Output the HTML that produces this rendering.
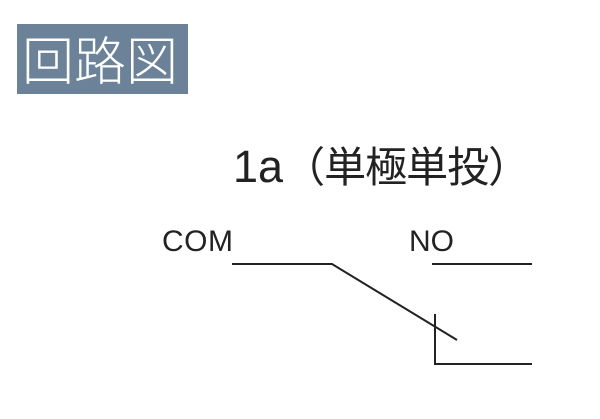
<!DOCTYPE html>
<html><head><meta charset="utf-8"><style>
body{margin:0;width:600px;height:419px;background:#fff;position:relative;overflow:hidden;font-family:"Liberation Sans","Noto Sans CJK JP",sans-serif}
.t{position:absolute;white-space:nowrap}
</style></head><body>
<div style="position:absolute;left:17px;top:24px;width:171px;height:70px;background:#6b8299"></div>
<div class="t" style="left:22px;top:28px;font-size:52px;line-height:60px;color:#fff;font-family:'Noto Sans CJK JP',sans-serif;font-weight:300">回路図</div>
<div class="t" style="left:233px;top:140px;height:50px;line-height:50px;color:#222"><span style="font-size:45px">1a</span><span style="font-size:42px;font-family:'Noto Sans CJK JP',sans-serif;letter-spacing:-1px">（単極単投）</span></div>
<div class="t" style="left:162px;top:227px;font-size:30px;line-height:30px;color:#222;letter-spacing:0.5px">COM</div>
<div class="t" style="left:409px;top:227px;font-size:30px;line-height:30px;color:#222">NO</div>
<svg width="600" height="419" style="position:absolute;left:0;top:0">
<g stroke="#222" stroke-width="2" fill="none">
<polyline points="232,264 332,264 457,340"/>
<line x1="432" y1="264" x2="532" y2="264"/>
<polyline points="435,314 435,364 532,364"/>
</g></svg>
</body></html>
